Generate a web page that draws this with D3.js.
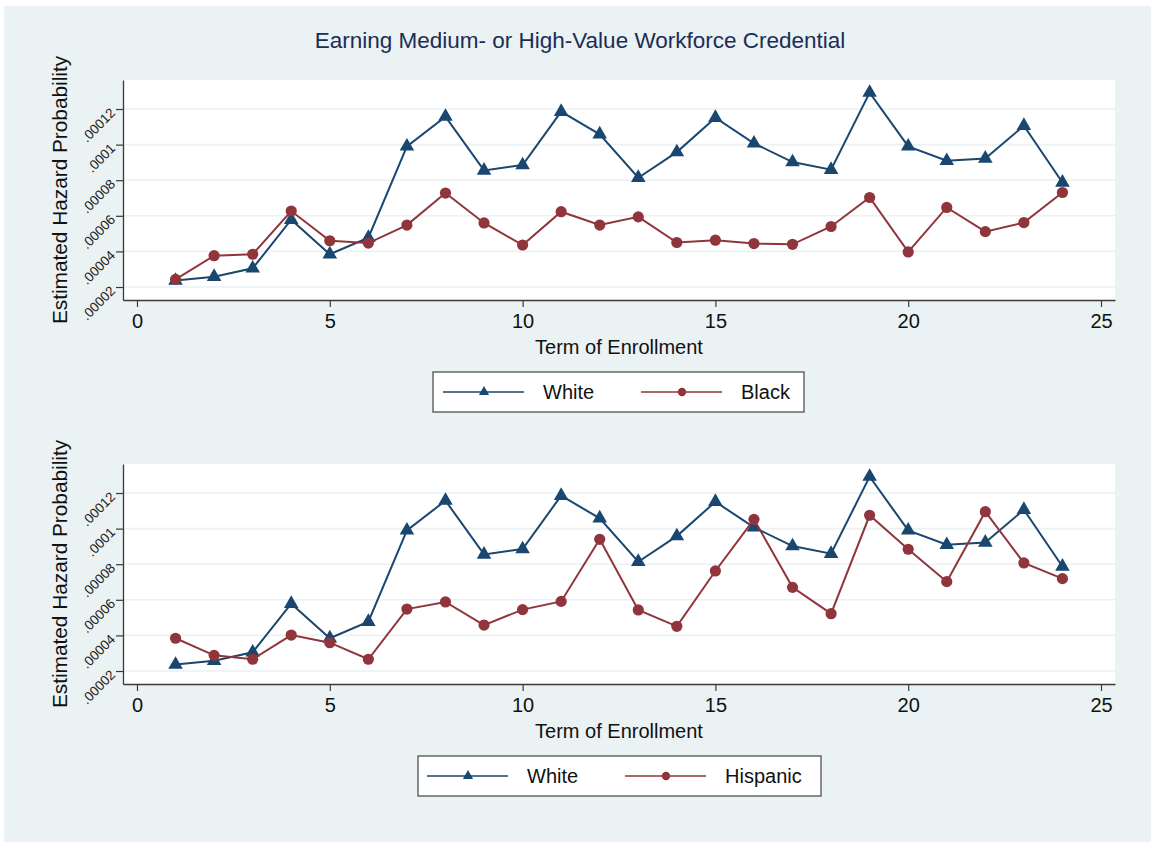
<!DOCTYPE html>
<html>
<head>
<meta charset="utf-8">
<script src="https://cdn.jsdelivr.net/npm/d3@7"></script>
<style>
  html, body { margin: 0; padding: 0; background: #ffffff; }
  svg { display: block; font-family: "Liberation Sans", Arial, Helvetica, sans-serif; }
</style>
</head>
<body>
<svg id="chart" width="1151" height="842"></svg>
<script>
// Term of enrollment (x) and estimated hazard probabilities per group
const terms = [1, 2, 3, 4, 5, 6, 7, 8, 9, 10, 11, 12, 13, 14, 15, 16, 17, 18, 19, 20, 21, 22, 23, 24];

const white = [0.0000236, 0.0000258, 0.0000305, 0.0000578, 0.0000384, 0.0000477, 0.0000990, 0.0001157,
               0.0000855, 0.0000885, 0.0001185, 0.0001058, 0.0000814, 0.0000958, 0.0001151, 0.0001007,
               0.0000902, 0.0000859, 0.0001292, 0.0000990, 0.0000909, 0.0000922, 0.0001106, 0.0000787];

const black = [0.0000243, 0.0000376, 0.0000384, 0.0000627, 0.0000460, 0.0000447, 0.0000548, 0.0000728,
               0.0000560, 0.0000436, 0.0000623, 0.0000548, 0.0000594, 0.0000450, 0.0000463, 0.0000444,
               0.0000440, 0.0000540, 0.0000703, 0.0000397, 0.0000647, 0.0000511, 0.0000562, 0.0000731];

const hispanic = [0.0000384, 0.0000288, 0.0000266, 0.0000402, 0.0000359, 0.0000266, 0.0000548, 0.0000588,
                  0.0000458, 0.0000545, 0.0000591, 0.0000940, 0.0000543, 0.0000451, 0.0000762, 0.0001052,
                  0.0000670, 0.0000522, 0.0001075, 0.0000884, 0.0000702, 0.0001095, 0.0000807, 0.0000719];

const xTicks = [0, 5, 10, 15, 20, 25];
const yTicks = [0.00002, 0.00004, 0.00006, 0.00008, 0.0001, 0.00012];
const yTickLabels = [".00002", ".00004", ".00006", ".00008", ".0001", ".00012"];

const chartTitle = "Earning Medium- or High-Value Workforce Credential";
const xTitle = "Term of Enrollment";
const yTitle = "Estimated Hazard Probability";

const NAVY = "#1a476f";
const MAROON = "#90353b";
const BG = "#eaf2f3";
const AXIS = "#3a3a3a";

const svg = d3.select("#chart");

// graph region background
svg.append("rect")
  .attr("x", 4).attr("y", 6)
  .attr("width", 1151 - 4).attr("height", 842 - 6)
  .attr("fill", BG);

svg.append("text")
  .attr("x", 580).attr("y", 48)
  .attr("text-anchor", "middle")
  .attr("font-size", 22.5)
  .attr("fill", "#1c2d55")
  .text(chartTitle);

const plotLeft = 123, plotRight = 1115, plotH = 220;

const x = d3.scaleLinear().domain([-0.363, 25.363]).range([plotLeft, plotRight]);

function panel(top, series, legend) {
  const bottom = top + plotH;
  const y = d3.scaleLinear().domain([0.0000127, 0.0001363]).range([bottom, top]);
  const g = svg.append("g");

  // plot region
  g.append("rect")
    .attr("x", plotLeft).attr("y", top)
    .attr("width", plotRight - plotLeft).attr("height", plotH)
    .attr("fill", "#ffffff");

  // horizontal grid
  g.append("g").selectAll("line").data(yTicks).join("line")
    .attr("x1", plotLeft).attr("x2", plotRight)
    .attr("y1", d => y(d)).attr("y2", d => y(d))
    .attr("stroke", BG).attr("stroke-width", 1.6);

  // y axis
  const yAxis = g.append("g")
    .attr("transform", `translate(${plotLeft},0)`)
    .call(d3.axisLeft(y).tickValues(yTicks).tickSize(7).tickSizeOuter(0)
      .tickFormat((d, i) => yTickLabels[i]));
  yAxis.select(".domain").attr("stroke", AXIS).attr("stroke-width", 1.3);
  yAxis.selectAll(".tick line").attr("stroke", AXIS).attr("stroke-width", 1.2);
  yAxis.selectAll(".tick text")
    .attr("x", 0).attr("dy", null)
    .attr("font-size", 13.5)
    .attr("fill", "#222")
    .attr("text-anchor", "end")
    .attr("dominant-baseline", "central")
    .attr("transform", "translate(-10,1) rotate(-45)");

  // x axis
  const xAxis = g.append("g")
    .attr("transform", `translate(0,${bottom})`)
    .call(d3.axisBottom(x).tickValues(xTicks).tickSize(7).tickSizeOuter(0).tickFormat(d3.format("d")));
  xAxis.select(".domain").attr("stroke", AXIS).attr("stroke-width", 1.3);
  xAxis.selectAll(".tick line").attr("stroke", AXIS).attr("stroke-width", 1.2);
  xAxis.selectAll(".tick text")
    .attr("y", 28).attr("dy", null)
    .attr("font-size", 20)
    .attr("fill", "#111");

  // axis titles
  g.append("text")
    .attr("x", (plotLeft + plotRight) / 2).attr("y", bottom + 54)
    .attr("text-anchor", "middle")
    .attr("font-size", 20).attr("fill", "#111")
    .text(xTitle);
  g.append("text")
    .attr("transform", `translate(67,${top + plotH / 2}) rotate(-90)`)
    .attr("text-anchor", "middle")
    .attr("font-size", 20.8).attr("fill", "#111")
    .text(yTitle);

  const line = d3.line().x((d, i) => x(terms[i])).y(d => y(d));
  const tri = d3.symbol().type(d3.symbolTriangle).size(92);

  series.forEach(s => {
    g.append("path")
      .attr("d", line(s.values))
      .attr("fill", "none")
      .attr("stroke", s.color)
      .attr("stroke-width", 2);
    if (s.marker === "triangle") {
      g.append("g").selectAll("path").data(s.values).join("path")
        .attr("transform", (d, i) => `translate(${x(terms[i])},${y(d)})`)
        .attr("d", tri)
        .attr("fill", s.color);
    } else {
      g.append("g").selectAll("circle").data(s.values).join("circle")
        .attr("cx", (d, i) => x(terms[i]))
        .attr("cy", d => y(d))
        .attr("r", 5.6)
        .attr("fill", s.color);
    }
  });

  // legend
  const lg = svg.append("g");
  lg.append("rect")
    .attr("x", legend.x).attr("y", legend.y)
    .attr("width", legend.w).attr("height", 40)
    .attr("fill", "#ffffff").attr("stroke", "#444").attr("stroke-width", 1.2);
  const cy = legend.y + 20;
  series.forEach((s, k) => {
    const lx = legend.items[k];
    lg.append("line")
      .attr("x1", lx).attr("x2", lx + 81)
      .attr("y1", cy).attr("y2", cy)
      .attr("stroke", s.color).attr("stroke-width", 1.5);
    if (s.marker === "triangle") {
      lg.append("path")
        .attr("transform", `translate(${lx + 41},${cy})`)
        .attr("d", d3.symbol().type(d3.symbolTriangle).size(46))
        .attr("fill", s.color);
    } else {
      lg.append("circle")
        .attr("cx", lx + 41).attr("cy", cy).attr("r", 4.2)
        .attr("fill", s.color);
    }
    lg.append("text")
      .attr("x", lx + 100).attr("y", cy + 7)
      .attr("font-size", 20).attr("fill", "#111")
      .text(s.name);
  });
}

panel(80, [
  { name: "White", values: white, color: NAVY, marker: "triangle" },
  { name: "Black", values: black, color: MAROON, marker: "circle" }
], { x: 433, y: 372, w: 371, items: [443, 641] });

panel(464, [
  { name: "White", values: white, color: NAVY, marker: "triangle" },
  { name: "Hispanic", values: hispanic, color: MAROON, marker: "circle" }
], { x: 418, y: 756, w: 403, items: [427, 625] });
</script>
</body>
</html>
